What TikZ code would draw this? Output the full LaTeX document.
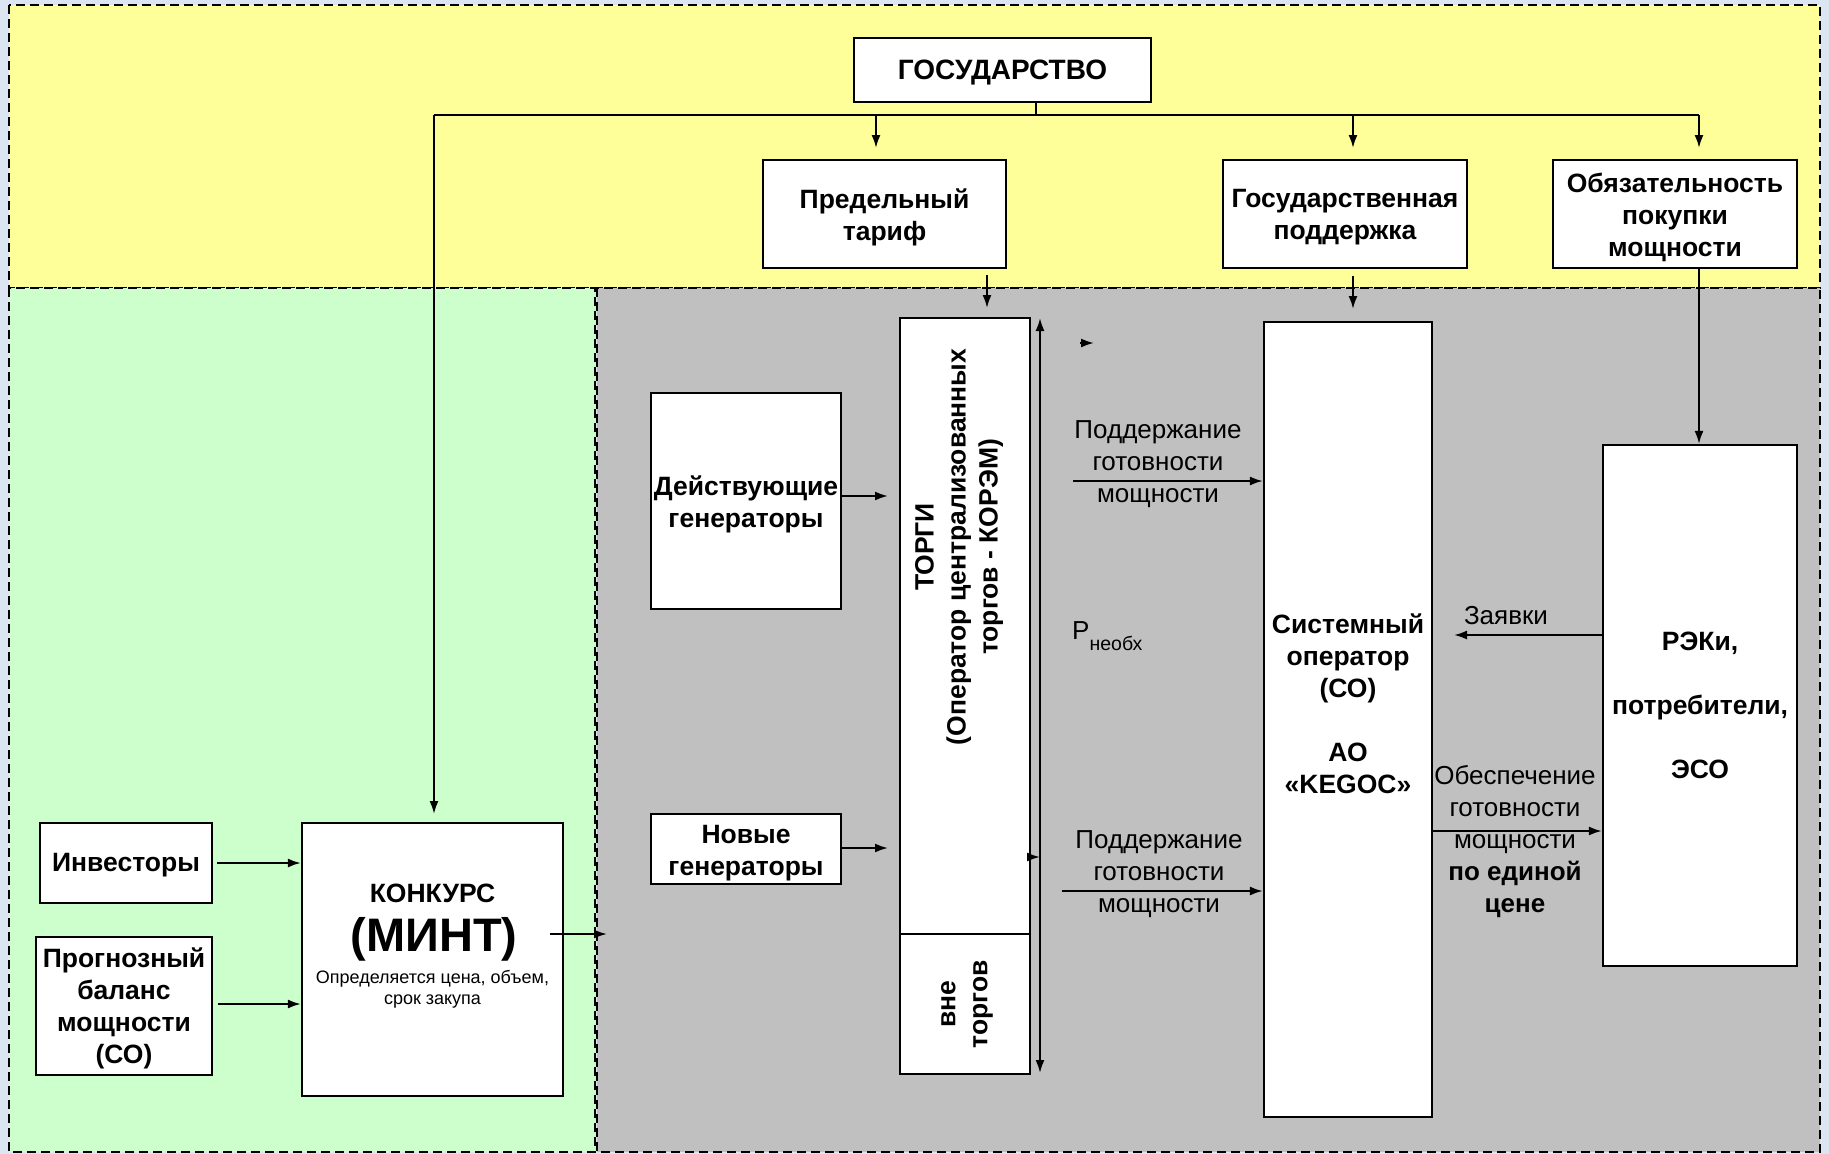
\documentclass[tikz,border=0pt]{standalone}
\usepackage{fontspec}
\setmainfont{Liberation Sans}
\usetikzlibrary{arrows.meta,calc}
\definecolor{bgblue}{HTML}{DCE6F2}
\definecolor{yel}{HTML}{FFFF99}
\definecolor{grn}{HTML}{CCFFCC}
\definecolor{gry}{HTML}{C0C0C0}
\begin{document}
\begin{tikzpicture}[x=1pt,y=-1pt,
 box/.style={draw=black, line width=2.2pt, fill=white, inner sep=0pt, align=center, font={\bfseries\fontsize{26.5}{32}\selectfont}},
 conn/.style={line width=2pt, -{Latex[length=13pt,width=9pt]}},
 dconn/.style={line width=2pt, {Latex[length=13pt,width=9pt]}-{Latex[length=13pt,width=9pt]}},
 plainline/.style={line width=2pt},
 zone/.style={draw=black, line width=2pt, dash pattern=on 9pt off 5pt},
 lbl/.style={inner sep=0pt, align=center, font={\fontsize{26}{32}\selectfont}},
 blbl/.style={inner sep=0pt, align=center, font={\bfseries\fontsize{26.5}{32}\selectfont}}]
% background and zones
\fill[bgblue] (0,0) rectangle (1829,1154);
\useasboundingbox (0,0) rectangle (1829,1154);
\filldraw[fill=yel, zone] (9,5) rectangle (1820,288);
\filldraw[fill=grn, zone] (9,288) rectangle (595,1152);
\filldraw[fill=gry, zone] (597,288) rectangle (1820,1152);

% top boxes
\node[box, minimum width=297pt, minimum height=64pt] (gos) at (1002.5,70) {};
\node[blbl, font={\bfseries\fontsize{28}{32}\selectfont}] (gostxt) at (1002.5,73) {ГОСУДАРСТВО};
\node[box, minimum width=243pt, minimum height=108pt] (tarif) at (884.5,214) {};
\node[blbl] (tariftxt) at (884.5,217) {Предельный\\тариф};
\node[box, minimum width=244pt, minimum height=108pt] (podd) at (1345,214) {};
\node[blbl] (poddtxt) at (1345,217) {Государственная\\поддержка};
\node[box, minimum width=244pt, minimum height=108pt] (obyaz) at (1675,214) {};
\node[blbl] (obyaztxt) at (1675,217) {Обязательность\\покупки\\мощности};

% gray zone boxes
\node[box, minimum width=130pt, minimum height=616pt] (torgi) at (965,626) {};
\node[box, minimum width=130pt, minimum height=140pt] (vne) at (965,1004) {};
\node[blbl, rotate=90] (torgitxt) at (959,547) {ТОРГИ\\(Оператор централизованных\\торгов - КОРЭМ)};
\node[blbl, rotate=90] (vnetxt) at (967,1004) {вне\\торгов};
\node[box, minimum width=190pt, minimum height=216pt] (deyst) at (746,501) {};
\node[blbl] (deysttxt) at (746,504) {Действующие\\генераторы};
\node[box, minimum width=190pt, minimum height=70pt] (novye) at (746,849) {};
\node[blbl] (novyetxt) at (746,853) {Новые\\генераторы};
\node[box, minimum width=168pt, minimum height=795pt] (so) at (1348,719.5) {};
\node[blbl] (sotxt) at (1348,704) {Системный\\оператор\\(СО)\\[32pt]АО\\«KEGOC»};
\node[box, minimum width=194pt, minimum height=521pt] (reki) at (1700,705.5) {РЭКи,\\[32pt]потребители,\\[32pt]ЭСО};

% green zone boxes
\node[box, minimum width=172pt, minimum height=80pt] (invest) at (126,863) {};
\node[blbl] (investtxt) at (126,865) {Инвесторы};
\node[box, minimum width=176pt, minimum height=138pt] (prog) at (124,1006) {};
\node[blbl] (progtxt) at (124,1008) {Прогнозный\\баланс\\мощности\\(СО)};
\node[box, minimum width=261pt, minimum height=273pt] (konk) at (432.5,959.5) {};
\node[blbl] (konk1) at (432.5,893) {КОНКУРС};
\node[inner sep=0pt, font={\bfseries\fontsize{47}{50}\selectfont}] (konk2) at (434,939) {(МИНТ)};
\node[inner sep=0pt, align=center, font={\fontsize{18}{21}\selectfont}] (konk3) at (432.5,989) {Определяется цена, объем,\\срок закупа};

% labels
\node[lbl] (pg1) at (1158,464) {Поддержание\\готовности\\мощности};
\node[lbl] (pg2) at (1159,874) {Поддержание\\готовности\\мощности};
\node[lbl] (zayav) at (1506,616) {Заявки};
\node[lbl] (obesp) at (1515,842) {Обеспечение\\готовности\\мощности\\\textbf{по единой}\\\textbf{цене}};
\node[inner sep=0pt, anchor=base west] (pneob) at (1072,639) {{\fontsize{26}{30}\selectfont P}\raisebox{-11pt}{\fontsize{19.5}{20}\selectfont необх}};

% bus from ГОСУДАРСТВО
\coordinate (gb) at (1036,115);
\coordinate (bl) at (434,115);
\coordinate (br) at (1699,115);
\draw[plainline] (gos.south -| gb) -- (gb);
\draw[plainline] (bl) -- (br);
\draw[conn] (bl) -- (434,814);
\draw[conn] (876,115) -- (876,148);
\draw[conn] (1353,115) -- (1353,148);
\draw[conn] (br) -- (1699,148);

% arrows from top boxes into gray zone
\draw[conn] (987,275) -- (987,308);
\draw[conn] (1353,276) -- (1353,309);
\draw[conn] (obyaz.south -| br) -- (reki.north -| br);

% generators to torgi
\draw[conn] (deyst.east |- 0,496) -- (888,496);
\draw[conn] (novye.east |- 0,848) -- (888,848);

% double vertical arrow and small arrows
\coordinate (dtop) at (1040,318);
\coordinate (dbot) at (1040,1073);
\draw[dconn] (dtop) -- (dbot);
\draw[conn] (torgi.east |- 0,857) -- (1040,857);
\coordinate (s1) at (1080,343);
\coordinate (s2) at (1094,343);
\draw[conn] (s1) -- (s2);

% support arrows
\draw[conn] (1073,481) -- (so.west |- 0,481);
\draw[conn] (1062,891) -- (so.west |- 0,891);

% REK / SO
\draw[conn] (reki.west |- 0,635) -- (1454,635);
\draw[conn] (so.east |- 0,831) -- (reki.west |- 0,831);

% green zone arrows
\draw[conn] (217,863) -- (konk.west |- 0,863);
\draw[conn] (218,1004) -- (konk.west |- 0,1004);
\draw[conn] (550,934) -- (607,934);
\end{tikzpicture}
\end{document}
